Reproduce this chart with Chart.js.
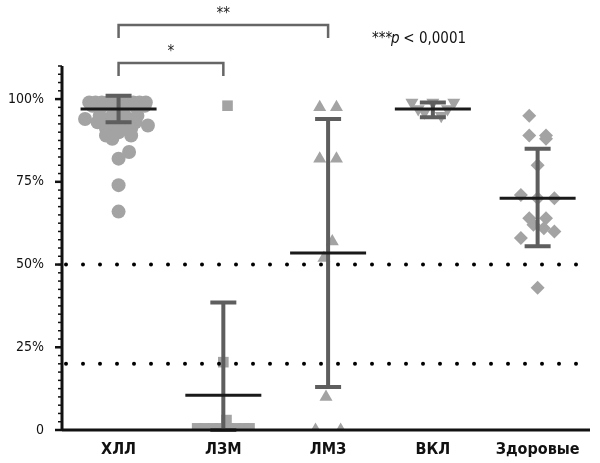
<!DOCTYPE html><html><head><meta charset="utf-8">
<script src="https://cdn.jsdelivr.net/npm/chart.js@4"></script>
<style>body{margin:0;background:#fff}#w{width:600px;height:463px}</style></head><body><div id="w"><canvas id="c"></canvas></div>
<script>
const categories=['ХЛЛ','ЛЗМ','ЛМЗ','ВКЛ','Здоровые'];
const yTicks=[0,25,50,75,100];
const hllX=[-0.28,-0.22,-0.16,-0.1,-0.04,0.02,0.08,0.14,0.2,0.26,-0.25,-0.15,-0.05,0.05,0.15,0.25,-0.32,-0.2,-0.08,0.04,0.16,0.28,-0.12,0,0.12,-0.18,-0.06,0.06,0.18,-0.12,0.12,-0.06,0.1,0,0,0];
const hllY=[99,99,99,99,99,99,99,99,99,99,98,98,98,98,98,98,94,93,93,92,93,92,91,90,91,95,95,95,95,89,89,88,84,82,74,66];
const lzmX=[0.04,0,0.03,-0.25,-0.18,-0.1,-0.03,0.05,0.12,0.2,0.25];
const lzmY=[98,20.5,3,0.5,0.5,0.5,0.5,0.5,0.5,0.5,0.5];
const lmzX=[-0.08,0.08,-0.08,0.08,0.04,-0.04,-0.02,-0.12,0.12];
const lmzY=[97.5,97.5,82,82,57,52,10,0,0];
const vklX=[-0.2,0,0.2,-0.08,0.08,-0.14,0.14];
const vklY=[99,99,99,96,95,97,97];
const zdX=[-0.08,0.08,-0.08,0.08,0,-0.16,0.16,0,-0.08,0.08,-0.16,0.16,-0.04,0.06,0];
const zdY=[95,89,89,88,80,71,70,70,64,64,58,60,62,61,43];
const means=[97,10.5,53.5,97,70];
const sdLow=[93,0,13,94.5,55.5];
const sdHigh=[101,38.5,94,99,85];
const pts=(xs,ys,c)=>xs.map((d,i)=>({x:c+d,y:ys[i]}));
const col='#a3a3a3';
const F="'Liberation Sans Narrow','DejaVu Sans Condensed',sans-serif";
const ds=[
 {data:pts(hllX,hllY,1),pointStyle:'circle',radius:7},
 {data:pts(lzmX,lzmY,2),pointStyle:'rect',radius:7.5},
 {data:pts(lmzX,lmzY,3),pointStyle:'triangle',radius:7.5},
 {data:pts(vklX,vklY,4),pointStyle:'triangle',rotation:180,radius:7.5},
 {data:pts(zdX,zdY,5),pointStyle:'rectRot',radius:7}
].map(d=>Object.assign({backgroundColor:col,borderColor:col,borderWidth:0,hoverRadius:7},d));
const extra={id:'extra',afterDatasetsDraw(ch){
 const c=ch.ctx,x=ch.scales.x,y=ch.scales.y;
 c.save();
 c.fillStyle='#000';
 [50,20].forEach(v=>{const py=y.getPixelForValue(v);for(let px=x.left+4;px<x.right;px+=17){c.beginPath();c.arc(px,py,2,0,7);c.fill();}});
 c.strokeStyle='#5e5e5e';c.lineWidth=4;
 means.forEach((m,i)=>{const px=x.getPixelForValue(i+1);const t=y.getPixelForValue(sdHigh[i]),b=y.getPixelForValue(sdLow[i]);
  c.beginPath();c.moveTo(px,t);c.lineTo(px,b);c.moveTo(px-13,t);c.lineTo(px+13,t);c.moveTo(px-13,b);c.lineTo(px+13,b);c.stroke();});
 c.strokeStyle='#1a1a1a';c.lineWidth=3;
 means.forEach((m,i)=>{const px=x.getPixelForValue(i+1),py=y.getPixelForValue(m);c.beginPath();c.moveTo(px-38,py);c.lineTo(px+38,py);c.stroke();});
 c.strokeStyle='#111';c.lineWidth=3;
 c.beginPath();c.moveTo(x.left,y.top);c.lineTo(x.left,y.bottom);c.moveTo(x.left,y.bottom);c.lineTo(x.right,y.bottom);c.stroke();
 c.lineWidth=1.5;
 for(let v=0;v<=110;v+=2.5){const py=y.getPixelForValue(v);c.beginPath();c.moveTo(x.left-4,py);c.lineTo(x.left,py);c.stroke();}
 c.lineWidth=2.5;
 yTicks.forEach(v=>{const py=y.getPixelForValue(v);c.beginPath();c.moveTo(x.left-7,py);c.lineTo(x.left,py);c.stroke();});
 c.strokeStyle='#666';c.lineWidth=2.5;
 const b=(a,e,top,bot,lab,ly)=>{const p1=x.getPixelForValue(a),p2=x.getPixelForValue(e);c.beginPath();c.moveTo(p1,bot);c.lineTo(p1,top);c.lineTo(p2,top);c.lineTo(p2,bot);c.stroke();
  c.fillStyle='#222';c.font='15px '+F;c.textAlign='center';c.fillText(lab,(p1+p2)/2,ly);};
 b(1,3,25,38,'**',18);b(1,2,63,76,'*',56);
 c.fillStyle='#111';c.font='15px '+F;c.textAlign='left';c.fillText('***',372,43);
 c.font='italic 15px '+F;c.fillText('p',391,43);c.font='15px '+F;c.fillText(' < 0,0001',399,43);
 c.restore();}};
new Chart(document.getElementById('c'),{type:'scatter',data:{datasets:ds},plugins:[extra],
options:{responsive:true,maintainAspectRatio:false,animation:false,
 layout:{padding:{top:66,right:10,left:0,bottom:0}},
 plugins:{legend:{display:false},tooltip:{enabled:false}},
 scales:{
  x:{type:'linear',min:0.46,max:5.5,grid:{display:false},border:{display:false},
   afterBuildTicks:s=>{s.ticks=[1,2,3,4,5].map(v=>({value:v}));},
   afterFit:s=>{s.height=33;},
   ticks:{autoSkip:false,maxRotation:0,color:'#111',font:{family:F,size:16,weight:'bold'},padding:2,callback:v=>categories[v-1]}},
  y:{min:0,max:110,grid:{display:false},border:{display:false},
   afterBuildTicks:s=>{s.ticks=yTicks.map(v=>({value:v}));},
   afterFit:s=>{s.width=62;},
   ticks:{color:'#111',font:{family:F,size:14},padding:10,callback:v=>v===0?'0':v+'%'}}}}});
</script></body></html>
